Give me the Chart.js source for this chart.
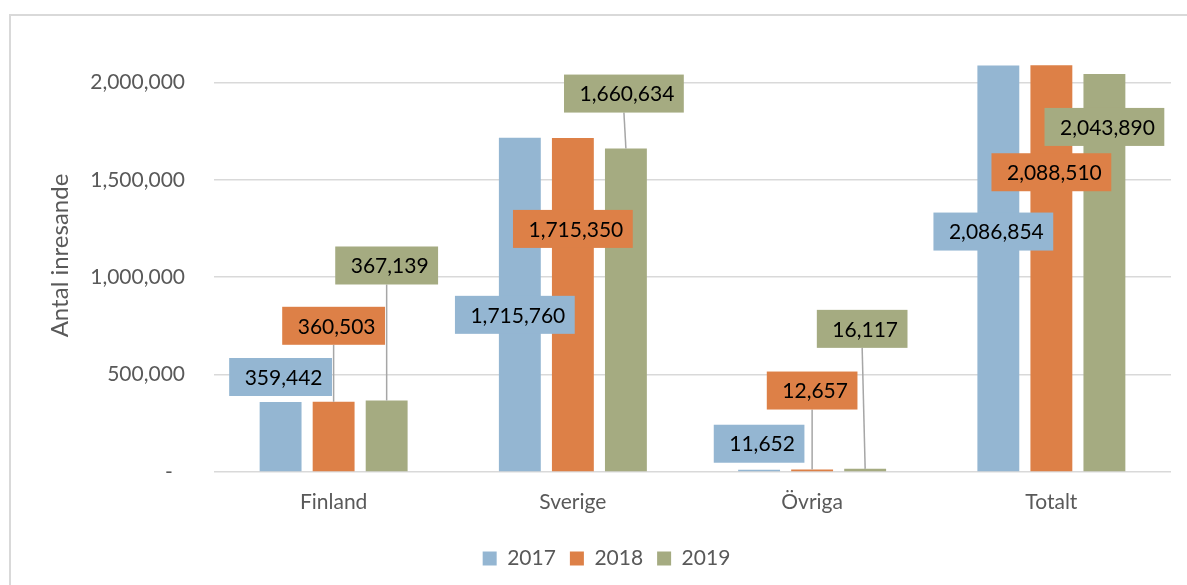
<!DOCTYPE html>
<html>
<head>
<meta charset="utf-8">
<script src="https://cdn.jsdelivr.net/npm/chart.js@4"></script>
<style>
  body { margin: 0; background: #fff; }
  #wrap { position: relative; width: 1187px; height: 585px; overflow: hidden; }
  #frame { position: absolute; left: 9px; top: 14px; width: 1300px; height: 700px;
           border-left: 2px solid #D9D9D9; border-top: 2px solid #D9D9D9; }
  canvas { position: absolute; left: 0; top: 0; }
</style>
</head>
<body>
<div id="wrap">
  <div id="frame"></div>
  <canvas id="chart" width="1187" height="585"></canvas>
</div>
<script>
const categories = ['Finland', 'Sverige', 'Övriga', 'Totalt'];
const years = ['2017', '2018', '2019'];
const values2017 = [359442, 1715760, 11652, 2086854];
const values2018 = [360503, 1715350, 12657, 2088510];
const values2019 = [367139, 1660634, 16117, 2043890];
const yTicks = [0, 500000, 1000000, 1500000, 2000000];

const colors = ['#94B6D2', '#DD8047', '#A5AB81'];
// label box centre, relative to the top of its bar (px)
const labelOffsets = [
    [[0, -25], [-5, 177], [0, -26], [-5, 166]],
    [[0, -76], [0, 91], [0, -79], [0, 107]],
    [[0, -135], [-2, -55], [-3, -140], [0, 53]]
];

const FONT = 'Lato, "Open Sans", sans-serif';
const fmt = v => v.toLocaleString('en-US');

// boxed data labels with leader lines, like the Excel original
const boxLabels = {
    id: 'boxLabels',
    afterDatasetsDraw(chart) {
        const ctx = chart.ctx;
        ctx.save();
        ctx.font = '21px ' + FONT;
        ctx.textBaseline = 'middle';
        ctx.textAlign = 'center';
        chart.data.datasets.forEach((ds, i) => {
            chart.getDatasetMeta(i).data.forEach((bar, j) => {
                const [dx, dy] = labelOffsets[i][j];
                const text = fmt(ds.data[j]);
                const w = ctx.measureText(text).width + 25;
                const h = 38;
                const cx = bar.x + dx, cy = bar.y + dy;
                if (cy + h / 2 < bar.y - 10) {
                    ctx.strokeStyle = '#A6A6A6';
                    ctx.lineWidth = 1.5;
                    ctx.beginPath();
                    ctx.moveTo(cx, cy + h / 2);
                    ctx.lineTo(bar.x, bar.y);
                    ctx.stroke();
                }
                ctx.fillStyle = ds.backgroundColor;
                ctx.fillRect(cx - w / 2, cy - h / 2, w, h);
                ctx.fillStyle = '#000';
                ctx.fillText(text, cx + 3, cy + 1);
            });
        });
        ctx.restore();
    }
};

new Chart(document.getElementById('chart'), {
    type: 'bar',
    data: {
        labels: categories,
        datasets: [
            { label: years[0], data: values2017, backgroundColor: colors[0] },
            { label: years[1], data: values2018, backgroundColor: colors[1] },
            { label: years[2], data: values2019, backgroundColor: colors[2] }
        ]
    },
    options: {
        responsive: false,
        animation: false,
        categoryPercentage: 0.665,
        barPercentage: 0.79,
        layout: { padding: { left: 42, right: 16, top: 63, bottom: 6 } },
        plugins: {
            legend: {
                position: 'bottom',
                labels: {
                    boxWidth: 14, boxHeight: 14, padding: 14,
                    color: '#595959',
                    font: { family: FONT, size: 21 }
                }
            },
            tooltip: { enabled: false }
        },
        scales: {
            x: {
                grid: { display: false, drawTicks: false },
                border: { display: false },
                ticks: { color: '#595959', padding: 18, font: { family: FONT, size: 21 } },
                afterFit: s => { s.height = 62; }
            },
            y: {
                min: 0,
                max: 2100000,
                afterBuildTicks: s => { s.ticks = yTicks.map(v => ({ value: v })); },
                grid: { color: '#D9D9D9', lineWidth: 1.5, drawTicks: false },
                border: { display: false },
                ticks: {
                    color: '#595959', padding: 29,
                    font: { family: FONT, size: 21 },
                    callback: v => v === 0 ? '-\u2007' : fmt(v)
                },
                title: {
                    display: true, text: '\u2002\u2002Antal inresande', color: '#595959',
                    font: { family: FONT, size: 24 }
                },
                afterFit: s => { s.width = 172; }
            }
        }
    },
    plugins: [boxLabels]
});
</script>
</body>
</html>
